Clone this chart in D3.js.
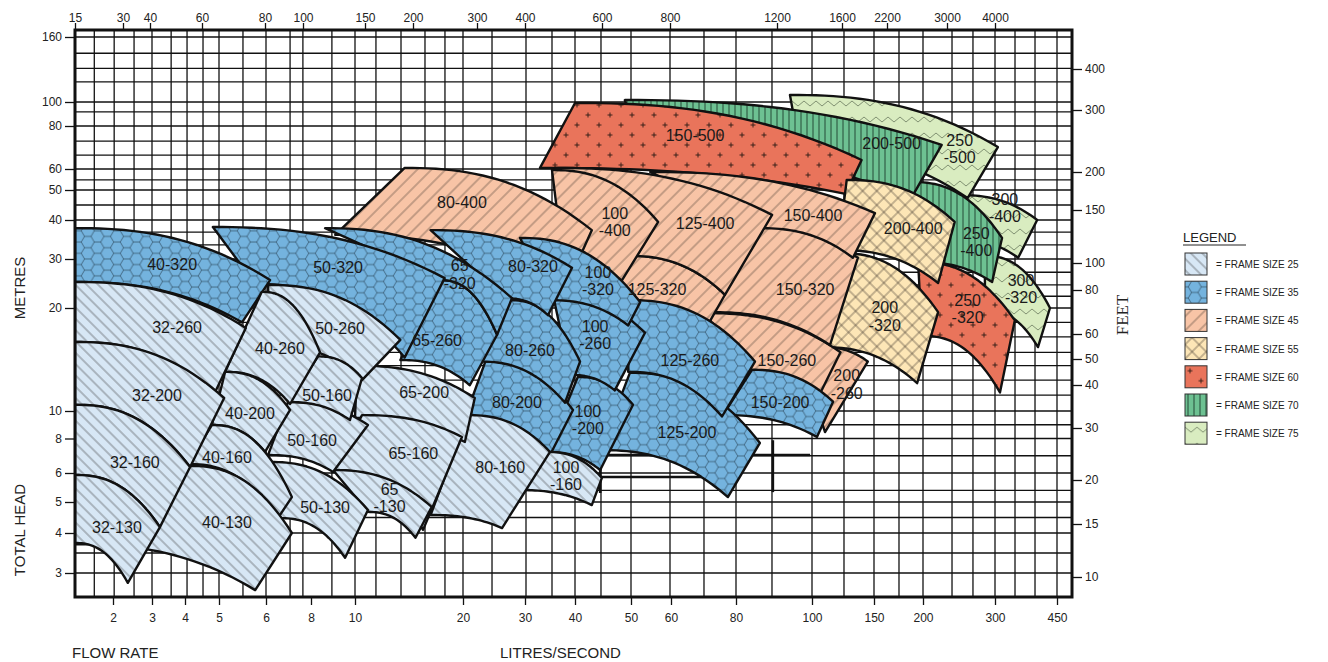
<!DOCTYPE html>
<html>
<head>
<meta charset="utf-8">
<script src="https://cdn.jsdelivr.net/npm/d3@7/dist/d3.min.js"></script>
<style>
  body { margin: 0; background: #fff; }
  #chart { display: block; }
  text { font-family: "Liberation Sans", Arial, sans-serif; }
</style>
</head>
<body>
<svg id="chart" width="1328" height="662"></svg>
<script>
// ---- values ----
const flowTicks = [2, 3, 4, 5, 6, 8, 10, 20, 30, 40, 50, 60, 80, 100, 150, 200, 300, 450]; // L/s
const gpmTicks = [15, 30, 40, 60, 80, 100, 150, 200, 300, 400, 600, 800, 1200, 1600, 2200, 3000, 4000];
const headTicks = [160, 100, 80, 60, 50, 40, 30, 20, 10, 8, 6, 5, 4, 3]; // metres
const feetTicks = [400, 300, 200, 150, 100, 80, 60, 50, 40, 30, 20, 15, 10];

const gridFlow = [1.68, 2.03, 2.54, 3, 3.58, 4.06, 4.53, 5, 5.51, 6, 7.07, 7.64, 8.95, 10, 11.94, 14.26,
  16.48, 18.33, 20, 24.68, 30.2, 35.4, 40, 44.64, 50, 59.75, 70.15, 80, 89.47, 100, 125.8, 150, 175.5,
  200, 240.3, 269.4, 300, 348.4, 396.8, 450];
const gridHead = [160, 145, 131, 118.5, 100, 91.7, 80, 73, 66.5, 60, 54.8, 50, 45, 40, 36.9, 33.6, 30,
  27.3, 24.7, 22.4, 20, 18.6, 17.2, 15.7, 14.4, 13, 11.55, 10, 9, 8, 7, 6, 5.4, 5, 4.5, 4, 3.5, 3];

// heavier rule segments printed inside the grid: [flow, head] from -> to
const ruleFrom = [[44.5, 7.04], [89.7, 7.9], [44.5, 7.04], [33, 5.86]];
const ruleTo = [[44.5, 5.31], [89.7, 5.34], [99.5, 7.04], [69.4, 5.86]];

const frameSizes = ["25", "35", "45", "55", "60", "70", "75"];

// pump tiles, back to front. corners are [flow L/s, head m]
const pumpNames = [
  "300\n-320", "300\n-400", "250\n-500",
  "250\n-400", "200-500",
  "250\n-320", "150-500",
  "200-400", "200\n-320",
  "200\n-260", "150-260", "150-320", "150-400", "125-320", "125-400", "100\n-400", "80-400",
  "150-200", "125-200", "125-260", "100\n-200", "100\n-260", "100\n-320", "80-200", "80-260", "80-320",
  "65-260", "65\n-320", "50-320", "40-320",
  "100\n-160", "80-160", "65-200", "65-160", "65\n-130", "50-260", "50-160", "50-160", "50-130",
  "40-260", "40-200", "40-160", "40-130", "32-260", "32-200", "32-160", "32-130"
];
const pumpFrame = [
  "75", "75", "75",
  "70", "70",
  "60", "60",
  "55", "55",
  "45", "45", "45", "45", "45", "45", "45", "45",
  "35", "35", "35", "35", "35", "35", "35", "35", "35", "35", "35", "35", "35",
  "25", "25", "25", "25", "25", "25", "25", "25", "25", "25", "25", "25", "25", "25", "25", "25", "25"
];
const pumpTopLeft = [
  [286, 30.8], [251, 48.3], [94.2, 106.5],
  [189, 53.8], [48.9, 101.8],
  [195, 29.4], [40, 99.2],
  [128, 54.8], [123, 31.5],
  [108, 16.2], [71.1, 19.5], [81, 38.7], [54.8, 58.6], [49.5, 30.8], [36, 60.5], [35.4, 59.5], [14.6, 60.5],
  [84.2, 14], [49.8, 13.7], [49.8, 21.6], [40.5, 13.3], [35.6, 22.7], [29.2, 35.4], [23.6, 14.8], [27.6, 21.6], [17, 37.4],
  [17.9, 25.7], [8.64, 37.9], [4.82, 38.2], [1.35, 37.9],
  [34.4, 7.22], [20.8, 9.7], [10.2, 14.4], [10.65, 9.7], [9, 6.17], [6.09, 24.7], [6.98, 10.87], [8.32, 15.3], [6.18, 6.64],
  [5.91, 23.3], [5.13, 13.8], [4.79, 8.98], [4.15, 6.41], [1.35, 25.3], [1.35, 16.7], [1.35, 10.6], [1.35, 5.93]
];
const pumpTopRight = [
  [433, 20], [402, 40], [307, 70.2],
  [317, 35.4], [226, 71.2],
  [348, 18.8], [140, 64.2],
  [244, 39.5], [221, 19.6],
  [145, 14.8], [123, 15.7], [137, 30.3], [151, 42.3], [76.6, 22.7], [89.5, 41.7], [56.8, 39.5], [43, 37.4],
  [117, 10.9], [86.3, 7.74], [85, 14.8], [50.5, 10.6], [53.5, 17.6], [52.3, 21.2], [39.6, 10.1], [40.9, 14.8], [39.4, 28.2],
  [25.5, 17.4], [27.9, 22], [18.3, 26.1], [6.18, 25.7],
  [44.8, 5.83], [35, 7.22], [21.9, 11.26], [19.9, 8.11], [17.1, 4.84], [14.2, 16.9], [11.2, 8.98], [10.65, 13.2], [11.2, 4.74],
  [8.41, 15.7], [7.07, 10.1], [7.15, 5.17], [7.15, 4], [5.57, 18.06], [5.11, 11.26], [4.15, 6.35], [3.24, 4.19]
];
const pumpBottomRight = [
  [404, 16.2], [356, 30.3], [262, 47.3],
  [296, 25.3], [187, 46.7],
  [312, 11.8], [127, 48.7],
  [221, 25.1], [194, 12.7],
  [110.5, 8.47], [102, 10.6], [114.5, 16.4], [133, 30.3], [70.5, 17.9], [76.6, 22.7], [48.4, 25.7], [38, 23.7],
  [104, 8.11], [77.5, 5.17], [75.7, 9.6], [44.5, 6.17], [47.1, 12], [49.5, 18.3], [35, 7.04], [38, 10.8], [34.6, 19.3],
  [21.1, 12.5], [25.5, 17.4], [14.6, 15.2], [5.49, 18.6],
  [43, 4.9], [26.3, 4.16], [20.3, 7.8], [16.3, 4.1], [15.6, 3.88], [10.65, 13], [9, 6.06], [9.77, 9.34], [9.55, 3.38],
  [7.07, 10.68], [5.98, 7.22], [6.53, 4.48], [5.77, 2.74], [4.88, 11.8], [4.15, 6.35], [3.24, 4.19], [2.38, 2.85]
];
const pumpBottomLeft = [
  [286, 19.8], [251, 34.9], [96.8, 68.8],
  [195, 29.4], [52.3, 69.8],
  [199, 17.3], [33, 60.5],
  [121, 32.3], [108, 16.2],
  [96.8, 11.07], [79.7, 13.8], [72, 19.6], [86.3, 37.9], [46.6, 21.6], [49.5, 30.8], [38, 26.7], [9.1, 36.2],
  [76, 9.7], [44.5, 7.33], [49.5, 13.8], [34.4, 7.22], [39, 13.5], [35, 21.6], [20.3, 9.49], [22.7, 14.8], [26.8, 22],
  [14.2, 14.95], [17.9, 25.7], [5.77, 24.9], [1.35, 25.3],
  [29.2, 5.41], [17, 4.58], [10, 9.49], [9, 6.17], [11.2, 4.68], [6.18, 16.4], [6.09, 7.04], [6.98, 10.87], [6.62, 4.48],
  [5.13, 13.8], [4.79, 8.98], [4.09, 6.52], [1.35, 3.72], [1.35, 16.7], [1.35, 10.6], [1.35, 5.93], [1.35, 3.75]
];
const pumpLabelAt = [
  [363, 23.9], [324, 44], [251, 69.3],
  [274, 34.4], [168, 72.1],
  [262, 19.9], [67.4, 75.8],
  [190, 37.9], [161, 19.2],
  [128, 12.6], [93.4, 14.95], [98.2, 23.7], [100.8, 41.7], [56.5, 23.7], [70.5, 39.2], [47.1, 39.5], [19.9, 46],
  [91.6, 10.8], [64.9, 8.47], [65.8, 14.95], [42.3, 9.34], [43.6, 17.4], [44.1, 25.5], [28.7, 10.8], [31, 15.9], [31.6, 28.4],
  [17.6, 16.9], [19.7, 26.9], [9.23, 28.2], [3.61, 28.8],
  [38.2, 5.9], [26, 6.35], [16.4, 11.85], [15.4, 7.16], [13.2, 5.14], [9.32, 18.06], [8.05, 7.91], [8.73, 11.55], [8.64, 4.84],
  [6.62, 16.1], [5.66, 9.85], [5.17, 6.93], [5.17, 4.35], [3.76, 18.1], [3.15, 11.55], [2.56, 6.64], [2.1, 4.19]
];

// ---- layout / calibration ----
// the printed grid is hand drawn and uneven, so every scale is pinned to where its ticks were printed
const plot = { left: 75, right: 1072, top: 30, bottom: 597 };
const flowTickPx = [113, 152, 185, 219, 266, 311, 355, 463, 525, 575, 631, 671, 736, 812, 874, 923, 995, 1057];
const headTickPx = [37, 102, 126, 169, 190, 220, 259, 308, 411, 438.5, 473, 502, 533, 573];
const gpmTickPx = [75, 123, 150, 202, 265, 303, 365, 413, 477, 525, 602, 670, 777, 842, 887, 947, 995];
const feetTickPx = [69, 110, 172, 210, 263, 290, 334, 359, 385, 428, 480, 524, 577];

const x = d3.scaleLinear().domain([1.35, ...flowTicks, 490]).range([plot.left, ...flowTickPx, plot.right]);
const y = d3.scaleLinear().domain([166.5, ...headTicks, 2.635]).range([plot.top, ...headTickPx, plot.bottom]);
const xTop = d3.scaleLinear().domain(gpmTicks).range(gpmTickPx);
const yFeet = d3.scaleLinear().domain(feetTicks).range(feetTickPx);

const frameFill = { "25": "#d7e7f5", "35": "#74b3de", "45": "#f8c4a6", "55": "#fde6b6",
  "60": "#e9745b", "70": "#6dc192", "75": "#d9ecc0" };

const svg = d3.select("#chart");
const defs = svg.append("defs");

function makePattern(id, w, h, fill, transform) {
  const p = defs.append("pattern").attr("id", id)
    .attr("patternUnits", "userSpaceOnUse")
    .attr("width", w).attr("height", h);
  if (transform) p.attr("patternTransform", transform);
  p.append("rect").attr("width", w).attr("height", h).attr("fill", fill);
  return p;
}

// frame 25: back-slash hatch
makePattern("pat25", 8, 8, frameFill["25"], "rotate(-45)")
  .append("line").attr("x1", 4).attr("y1", 0).attr("x2", 4).attr("y2", 8)
  .attr("stroke", "#3a3a3a").attr("stroke-width", 0.6);

// frame 35: honeycomb
const r = 6.5, hh = r * Math.sqrt(3) / 2;
makePattern("pat35", 3 * r, 2 * hh, frameFill["35"])
  .append("path")
  .attr("d", `M0,${hh}H${r / 2}L${r},0H${2 * r}L${2.5 * r},${hh}H${3 * r}` +
    `M${r / 2},${hh}L${r},${2 * hh}H${2 * r}L${2.5 * r},${hh}`)
  .attr("fill", "none").attr("stroke", "#2e4b60").attr("stroke-width", 0.7);

// frame 45: forward-slash hatch
makePattern("pat45", 10, 10, frameFill["45"], "rotate(45)")
  .append("line").attr("x1", 5).attr("y1", 0).attr("x2", 5).attr("y2", 10)
  .attr("stroke", "#4a3a33").attr("stroke-width", 0.6);

// frame 55: diamond cross hatch
const p55 = makePattern("pat55", 10, 10, frameFill["55"], "rotate(45)");
p55.append("line").attr("x1", 5).attr("y1", 0).attr("x2", 5).attr("y2", 10)
  .attr("stroke", "#3b352a").attr("stroke-width", 0.6);
p55.append("line").attr("x1", 0).attr("y1", 5).attr("x2", 10).attr("y2", 5)
  .attr("stroke", "#3b352a").attr("stroke-width", 0.6);

// frame 60: plus signs
const p60 = makePattern("pat60", 22, 20, frameFill["60"]);
[[5, 5], [16, 15]].forEach(([cx, cy]) => {
  p60.append("path").attr("d", `M${cx - 2.5},${cy}H${cx + 2.5}M${cx},${cy - 2.5}V${cy + 2.5}`)
    .attr("stroke", "#2b1a14").attr("stroke-width", 0.9);
});

// frame 70: vertical strokes
makePattern("pat70", 6, 6, frameFill["70"])
  .append("line").attr("x1", 3).attr("y1", 0).attr("x2", 3).attr("y2", 6)
  .attr("stroke", "#1d3b2b").attr("stroke-width", 0.9);

// frame 75: zigzag
makePattern("pat75", 12, 16, frameFill["75"])
  .append("polyline").attr("points", "0,5 6,10 12,5")
  .attr("fill", "none").attr("stroke", "#59684f").attr("stroke-width", 0.7);

// ---- grid ----
const grid = svg.append("g");
grid.selectAll("line.v").data(gridFlow).join("line")
  .attr("x1", d => x(d)).attr("x2", d => x(d))
  .attr("y1", plot.top).attr("y2", plot.bottom)
  .attr("stroke", "#111").attr("stroke-width", 1.3);
grid.selectAll("line.h").data(gridHead).join("line")
  .attr("y1", d => y(d)).attr("y2", d => y(d))
  .attr("x1", plot.left).attr("x2", plot.right)
  .attr("stroke", "#111").attr("stroke-width", 1.3);
grid.selectAll("line.rule").data(ruleFrom).join("line")
  .attr("x1", d => x(d[0])).attr("y1", d => y(d[1]))
  .attr("x2", (d, i) => x(ruleTo[i][0])).attr("y2", (d, i) => y(ruleTo[i][1]))
  .attr("stroke", "#111").attr("stroke-width", 2.6);

// ---- pump tiles ----
defs.append("clipPath").attr("id", "plotClip")
  .append("rect").attr("x", plot.left).attr("y", plot.top)
  .attr("width", plot.right - plot.left).attr("height", plot.bottom - plot.top);

const bend = 2.4;
function curveEdge(a, b, n = 24) {
  // pump curves stay flat at shut-off and fall away towards run-out
  return d3.range(n + 1).map(i => {
    const t = i / n;
    return [a[0] + (b[0] - a[0]) * t, a[1] + (b[1] - a[1]) * Math.pow(t, bend)];
  });
}
const pt = d => [x(d[0]), y(d[1])];

const tiles = svg.append("g").attr("clip-path", "url(#plotClip)");
const line = d3.line();
pumpNames.forEach((name, i) => {
  const tl = pt(pumpTopLeft[i]), tr = pt(pumpTopRight[i]);
  const br = pt(pumpBottomRight[i]), bl = pt(pumpBottomLeft[i]);
  const pts = curveEdge(tl, tr).concat(curveEdge(bl, br).reverse());
  tiles.append("path")
    .attr("d", line(pts) + "Z")
    .attr("fill", `url(#pat${pumpFrame[i]})`)
    .attr("stroke", "#111").attr("stroke-width", 2.4)
    .attr("stroke-linejoin", "round");
});

const labels = svg.append("g");
pumpNames.forEach((name, i) => {
  const [lx, ly] = pt(pumpLabelAt[i]);
  const rows = name.split("\n");
  const t = labels.append("text").attr("x", lx).attr("y", ly)
    .attr("text-anchor", "middle").attr("font-size", 16).attr("fill", "#1a1a1a");
  rows.forEach((s, k) => {
    t.append("tspan").attr("x", lx)
      .attr("dy", k === 0 ? `${0.35 - (rows.length - 1) * 0.55}em` : "1.1em")
      .text(s);
  });
});

// ---- frame & axes ----
svg.append("rect").attr("x", plot.left).attr("y", plot.top)
  .attr("width", plot.right - plot.left).attr("height", plot.bottom - plot.top)
  .attr("fill", "none").attr("stroke", "#111").attr("stroke-width", 3);

function styleAxis(g) {
  g.select(".domain").remove();
  g.selectAll(".tick line").attr("stroke", "#111").attr("stroke-width", 1.3);
  g.selectAll(".tick text").attr("font-size", 12).attr("fill", "#222")
    .attr("font-family", "'Liberation Sans', Arial, sans-serif");
}
svg.append("g").attr("transform", `translate(0,${plot.bottom})`)
  .call(d3.axisBottom(x).tickValues(flowTicks).tickSize(8).tickPadding(8).tickFormat(d => d))
  .call(styleAxis);
svg.append("g").attr("transform", `translate(0,${plot.top})`)
  .call(d3.axisTop(xTop).tickValues(gpmTicks).tickSize(7).tickPadding(1).tickFormat(d => d))
  .call(styleAxis);
svg.append("g").attr("transform", `translate(${plot.left},0)`)
  .call(d3.axisLeft(y).tickValues(headTicks).tickSize(10).tickPadding(3).tickFormat(d => d))
  .call(styleAxis);
svg.append("g").attr("transform", `translate(${plot.right},0)`)
  .call(d3.axisRight(yFeet).tickValues(feetTicks).tickSize(10).tickPadding(3).tickFormat(d => d))
  .call(styleAxis);

// axis titles
svg.append("text").attr("transform", "translate(25,288) rotate(-90)")
  .attr("text-anchor", "middle").attr("font-size", 15).attr("fill", "#222").text("METRES");
svg.append("text").attr("transform", "translate(25,530) rotate(-90)")
  .attr("text-anchor", "middle").attr("font-size", 15).attr("fill", "#222").text("TOTAL HEAD");
svg.append("text").attr("transform", "translate(1128,315) rotate(-90)")
  .attr("text-anchor", "middle").attr("font-size", 17).attr("fill", "#222")
  .style("font-family", "'Liberation Serif', 'DejaVu Serif', serif").text("FEET");
svg.append("text").attr("x", 72).attr("y", 658).attr("font-size", 15).attr("fill", "#222").text("FLOW RATE");
svg.append("text").attr("x", 500).attr("y", 658).attr("font-size", 15).attr("fill", "#222").text("LITRES/SECOND");

// ---- legend ----
const legend = svg.append("g").attr("transform", "translate(1183,0)");
legend.append("text").attr("x", 0).attr("y", 242).attr("font-size", 13).attr("fill", "#222").text("LEGEND");
legend.append("line").attr("x1", 0).attr("x2", 63).attr("y1", 245).attr("y2", 245)
  .attr("stroke", "#222").attr("stroke-width", 1);
const item = legend.selectAll("g.item").data(frameSizes).join("g")
  .attr("transform", (d, i) => `translate(2,${253 + i * 28.2})`);
item.append("rect").attr("width", 22).attr("height", 22)
  .attr("fill", d => `url(#pat${d})`).attr("stroke", "#333").attr("stroke-width", 1);
item.append("text").attr("x", 31).attr("y", 15).attr("font-size", 10).attr("fill", "#222")
  .text(d => `= FRAME SIZE ${d}`);
</script>
</body>
</html>
